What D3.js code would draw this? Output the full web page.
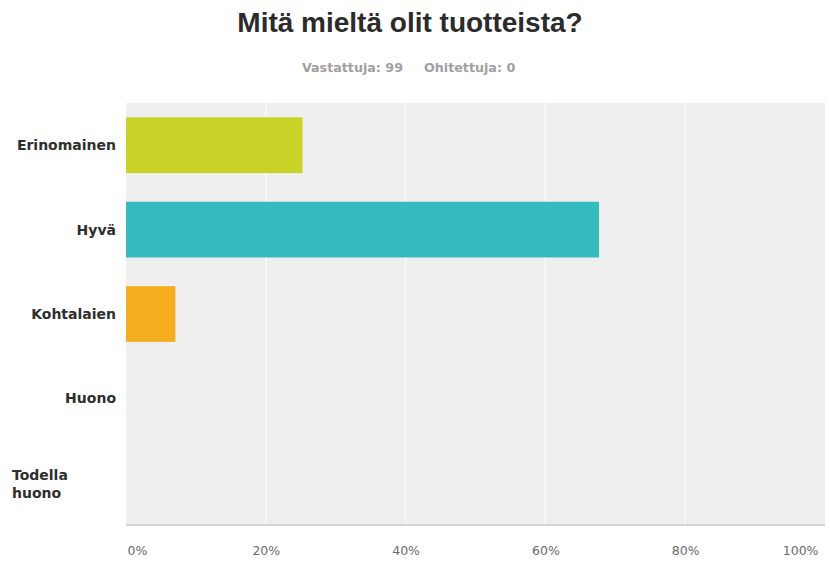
<!DOCTYPE html>
<html>
<head>
<meta charset="utf-8">
<script src="https://cdn.jsdelivr.net/npm/d3@7"></script>
<style>
  html, body { margin: 0; padding: 0; background: #fff; }
  svg { display: block; font-family: "DejaVu Sans", Verdana, sans-serif; }
</style>
</head>
<body>
<svg id="chart" width="830" height="563"></svg>
<script>
// Survey answers (99 respondents)
const categories = ["Erinomainen", "Hyvä", "Kohtalaien", "Huono", "Todella huono"];
const responses = [25, 67, 7, 0, 0];
const answered = 99;
const skipped = 0;
const barColors = ["#c9d226", "#34bcbf", "#f5ac1f", "#999999", "#999999"];
const tickValues = [0, 20, 40, 60, 80, 100];

const svg = d3.select("#chart");
const margin = { top: 103, right: 5, bottom: 38, left: 126 };
const W = 830, H = 563;
const plotW = W - margin.left - margin.right;
const plotH = H - margin.top - margin.bottom;

const pct = responses.map(v => v / answered * 100);

// Title and response counts
svg.append("text")
  .attr("x", 410).attr("y", 32)
  .attr("text-anchor", "middle")
  .attr("font-family", "Liberation Sans, Arial, sans-serif")
  .attr("font-size", 28).attr("font-weight", "bold")
  .attr("fill", "#2b2b2b")
  .text("Mitä mieltä olit tuotteista?");

svg.append("text")
  .attr("x", 403).attr("y", 72)
  .attr("text-anchor", "end")
  .attr("font-size", 12.7).attr("font-weight", "bold")
  .attr("fill", "#a0a0a0")
  .text("Vastattuja: " + answered);

svg.append("text")
  .attr("x", 424).attr("y", 72)
  .attr("text-anchor", "start")
  .attr("font-size", 12.7).attr("font-weight", "bold")
  .attr("fill", "#a0a0a0")
  .text("Ohitettuja: " + skipped);

const g = svg.append("g").attr("transform", `translate(${margin.left},${margin.top})`);

const x = d3.scaleLinear().domain([0, 100]).range([0, plotW]);
const y = d3.scaleBand().domain(categories).range([0, plotH]).paddingInner(0.34).paddingOuter(0.17);

// Plot background
g.append("rect")
  .attr("width", plotW).attr("height", plotH)
  .attr("fill", "#efefef");

// Vertical gridlines
g.selectAll("line.grid")
  .data(tickValues.filter(t => t > 0 && t < 100))
  .join("line")
  .attr("class", "grid")
  .attr("x1", d => x(d)).attr("x2", d => x(d))
  .attr("y1", 0).attr("y2", plotH)
  .attr("stroke", "#fafafa").attr("stroke-width", 1.5);

// Bars
g.selectAll("rect.bar")
  .data(categories)
  .join("rect")
  .attr("class", "bar")
  .attr("x", 0)
  .attr("y", d => y(d))
  .attr("height", y.bandwidth())
  .attr("width", (d, i) => x(pct[i]))
  .attr("fill", (d, i) => barColors[i]);

// Bottom axis line
g.append("line")
  .attr("x1", 0).attr("x2", plotW)
  .attr("y1", plotH).attr("y2", plotH)
  .attr("stroke", "#d6d6d6").attr("stroke-width", 2);

// X axis labels
const xAxis = d3.axisBottom(x).tickValues(tickValues).tickFormat(d => d + "%").tickSize(0).tickPadding(21);
const ax = g.append("g").attr("transform", `translate(0,${plotH})`).call(xAxis);
ax.select(".domain").remove();
ax.selectAll("text")
  .attr("font-family", "DejaVu Sans, Verdana, sans-serif")
  .attr("font-size", 12.5)
  .attr("fill", "#6a6a6a")
  .attr("text-anchor", d => d === 0 ? "start" : (d === 100 ? "end" : "middle"))
  .attr("dx", d => d === 0 ? "1" : (d === 100 ? "-7" : "0"));

// Category labels
const labels = svg.append("g").attr("transform", `translate(0,${margin.top})`);
categories.forEach((c, i) => {
  const cy = y(c) + y.bandwidth() / 2;
  const words = c.split(" ");
  if (words.length === 1) {
    labels.append("text")
      .attr("x", 116).attr("y", cy + 5)
      .attr("text-anchor", "end")
      .attr("font-size", 14).attr("font-weight", "bold")
      .attr("fill", "#2e2e2e")
      .text(c);
  } else {
    const t = labels.append("text")
      .attr("x", 12).attr("y", cy - 3)
      .attr("text-anchor", "start")
      .attr("font-size", 14).attr("font-weight", "bold")
      .attr("fill", "#2e2e2e");
    words.forEach((w, k) => {
      t.append("tspan").attr("x", 12).attr("dy", k === 0 ? 0 : 18).text(w);
    });
  }
});
</script>
</body>
</html>
